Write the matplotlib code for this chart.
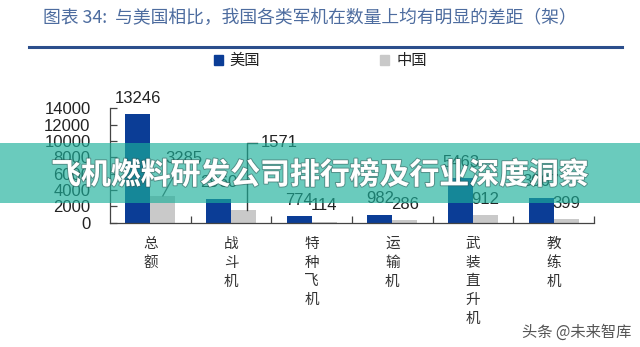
import matplotlib
matplotlib.use("Agg")
import matplotlib.pyplot as plt
from matplotlib.patches import Rectangle
from matplotlib.lines import Line2D
import matplotlib.patheffects as pe

plt.rcParams['font.family'] = ['Noto Sans CJK SC', 'DejaVu Sans']

categories = ["总额", "战斗机", "特种飞机", "运输机", "武装直升机", "教练机"]
usa = [13246, 2960, 774, 982, 5463, 3067]
china = [3285, 1571, 114, 286, 912, 399]
yticks = [0, 2000, 4000, 6000, 8000, 10000, 12000, 14000]

title = "图表 34:  与美国相比，我国各类军机在数量上均有明显的差距（架）"
banner = "飞机燃料研发公司排行榜及行业深度洞察"
watermark = "头条 @未来智库"

BLUE = "#0b3d96"
GRAY = "#c9c9c9"

fig = plt.figure(figsize=(6.4, 3.47), dpi=100)
W, H = 640, 347
ax = fig.add_axes([110 / W, 1 - 222.7 / H, 484 / W, 114.4 / H])

n = len(categories)
xs = list(range(n))
bw = 0.31
ax.bar([x - bw / 2 for x in xs], usa, width=bw, color=BLUE, zorder=2)
ax.bar([x + bw / 2 for x in xs], china, width=bw, color=GRAY, zorder=2)

num_font = dict(family=['Liberation Sans', 'DejaVu Sans'], fontsize=12, color='#222222')

for i, v in enumerate(usa):
    ax.annotate(str(v), (i - bw / 2, v), xytext=(0, 6), textcoords='offset points',
                ha='center', va='bottom', **num_font)
for i, v in enumerate(china):
    if i == 0:
        ax.plot([i + bw / 2, 0.33], [v, 6400], color='#555555', lw=0.9, zorder=3)
        ax.text(0.42, 6900, str(v), ha='center', va='bottom', **num_font)
    elif i == 1:
        ax.plot([1.198, 1.198, 1.32], [v, 9755, 9755], color='#333333', lw=1.0, zorder=3)
        ax.text(1.37, 9755, str(v), ha='left', va='center', **num_font)
    else:
        ax.annotate(str(v), (i + bw / 2, v), xytext=(0, 6), textcoords='offset points',
                    ha='center', va='bottom', **num_font)

ax.set_xlim(-0.5, n - 0.5)
ax.set_ylim(0, 14000)
ax.set_yticks(yticks)
ax.set_yticklabels([str(t) for t in yticks], family=['Liberation Sans', 'DejaVu Sans'],
                   fontsize=12, color='#222222')
ax.tick_params(axis='y', direction='in', length=5, width=0.9, color='#444444', pad=14)

ax.set_xticks(xs)
ax.set_xticklabels(['\n'.join(c) for c in categories], fontsize=10.5, color='#333333',
                   linespacing=1.45, va='top')
ax.tick_params(axis='x', which='major', length=0, pad=10)
ax.set_xticks([x + 0.5 for x in xs], minor=True)
ax.tick_params(axis='x', which='minor', direction='in', length=5, width=0.9, color='#444444')

for s in ['top', 'right']:
    ax.spines[s].set_visible(False)
for s in ['left', 'bottom']:
    ax.spines[s].set_color('#444444')
    ax.spines[s].set_linewidth(0.9)

# title and rule
fig.text(43 / W, 1 - 18 / H, title, fontsize=12.8, color='#4d6c9f', style='italic',
         ha='left', va='center')
fig.add_artist(Line2D([29 / W, 622 / W], [1 - 47 / H, 1 - 47 / H], color='#2b4e8c', lw=2.2))

# legend
fig.add_artist(Rectangle((214 / W, 1 - 65 / H), 9 / W, 10 / H, color=BLUE, transform=fig.transFigure))
fig.text(229 / W, 1 - 60 / H, "美国", fontsize=11, color='#222222', ha='left', va='center')
fig.add_artist(Rectangle((380 / W, 1 - 65 / H), 9 / W, 10 / H, color=GRAY, transform=fig.transFigure))
fig.text(397 / W, 1 - 60 / H, "中国", fontsize=11, color='#222222', ha='left', va='center')

# banner overlay
fig.add_artist(Rectangle((0, 1 - 203 / H), 1, 60 / H, color=(27 / 255, 175 / 255, 154 / 255),
                         alpha=0.65, transform=fig.transFigure, zorder=10, lw=0))
fig.text(0.5, 1 - 175 / H, banner, fontsize=21.5, weight='bold', color='white',
         ha='center', va='center', zorder=11,
         path_effects=[pe.withStroke(linewidth=1.5, foreground=(0.2, 0.3, 0.3, 0.45))])

# watermark
fig.text(631 / W, 1 - 332 / H, watermark, fontsize=11, color='#555555', ha='right', va='center')

fig.savefig("out.png", dpi=100, facecolor='white')
